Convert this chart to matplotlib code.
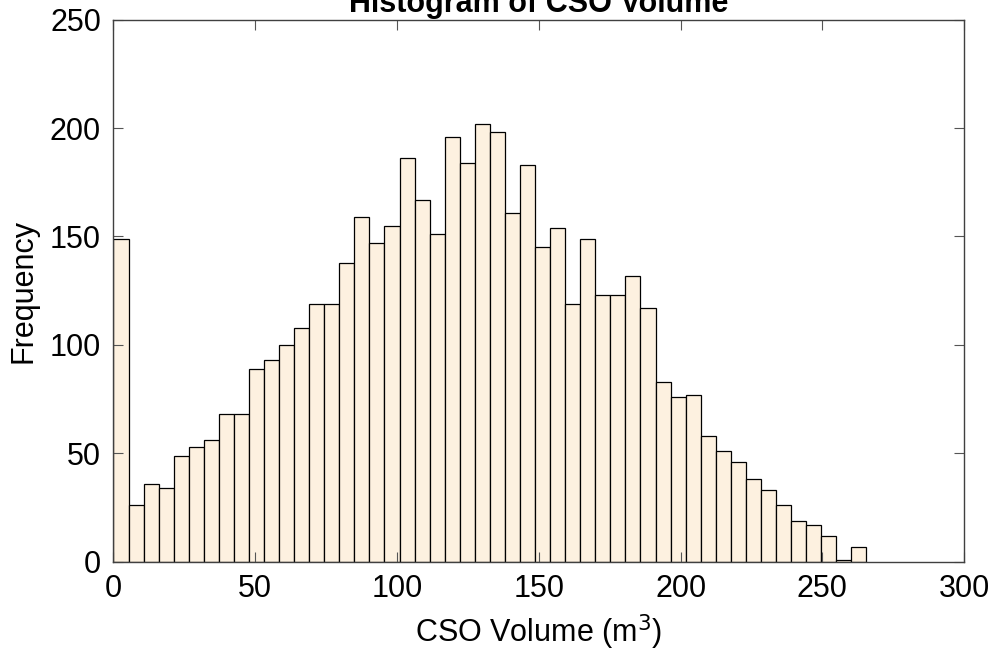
import matplotlib.pyplot as plt
import numpy as np

plt.rcParams['font.family'] = ['Liberation Sans', 'DejaVu Sans']

# counts per bin (50 bins between 0 and the largest volume)
counts = [149, 26, 36, 34, 49, 53, 56, 68, 68, 89,
          93, 100, 108, 119, 119, 138, 159, 147, 155, 186,
          167, 151, 196, 184, 202, 198, 161, 183, 145, 154,
          119, 149, 123, 123, 132, 117, 83, 76, 77, 58,
          51, 46, 38, 33, 26, 19, 17, 12, 1, 7]
vol_min, vol_max = 0.0, 265.5
xticks = [0, 50, 100, 150, 200, 250, 300]
yticks = [0, 50, 100, 150, 200, 250]

edges = np.linspace(vol_min, vol_max, len(counts) + 1)

fig = plt.figure(figsize=(9.92, 6.63), dpi=100)
ax = fig.add_axes([0.1144, 0.1525, 0.8575, 0.818])

ax.bar(edges[:-1], counts, width=np.diff(edges), align='edge',
       color='#FDF1E0', edgecolor='black', linewidth=0.9)

ax.set_xlim(0, 300)
ax.set_ylim(0, 250)
ax.set_xticks(xticks)
ax.set_yticks(yticks)
ax.tick_params(direction='in', length=7, width=0.8, color='#555555',
               top=True, right=True, labelsize=22, pad=9)
for s in ax.spines.values():
    s.set_color('#404040')
    s.set_linewidth(1.0)
    s.set_zorder(3)

ax.set_xlabel('CSO Volume (m$^3$)', fontsize=22, labelpad=6)
ax.set_ylabel('Frequency', fontsize=22, labelpad=8)
ax.set_title('Histogram of CSO Volume', fontsize=22, fontweight='bold', pad=5.6)

fig.savefig('out.png', dpi=100)
